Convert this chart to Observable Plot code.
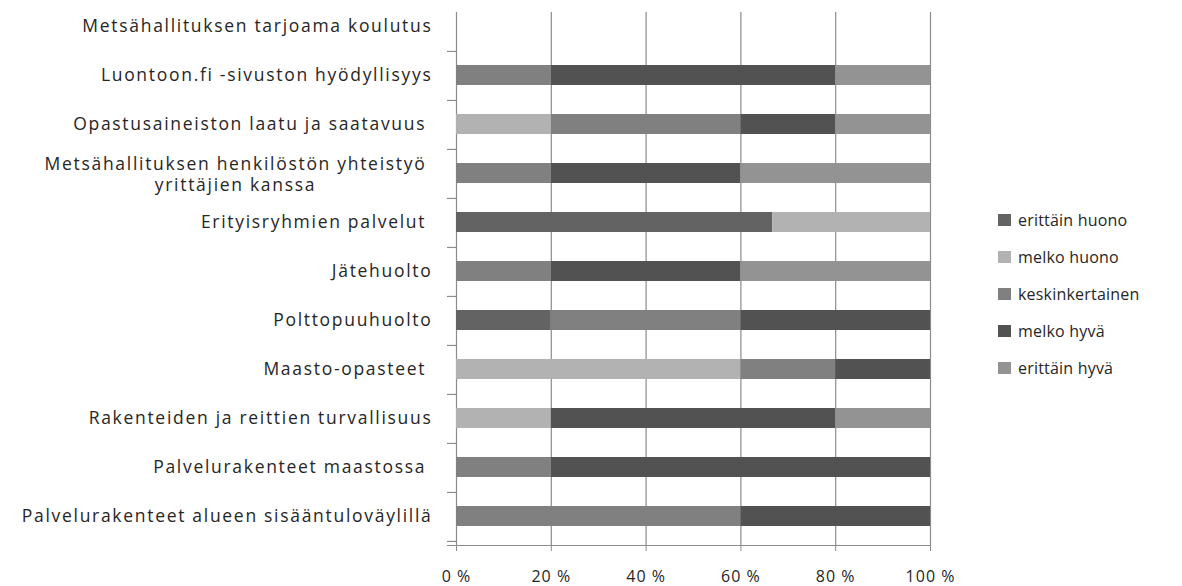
<!DOCTYPE html>
<html><head><meta charset="utf-8">
<script src="https://cdn.jsdelivr.net/npm/d3@7"></script>
<script src="https://cdn.jsdelivr.net/npm/@observablehq/plot@0.6"></script>
<style>
html,body{margin:0;padding:0;background:#fff;}
body{width:1182px;height:586px;overflow:hidden;position:relative;font-family:"Open Sans",sans-serif;color:#262626;}
#chart{position:absolute;left:0;top:-20px;}
#chart svg text{white-space:pre;}
#chart g[aria-label="y-axis tick label"] text, #chart g[aria-label="text"] text{letter-spacing:1.7px;}
#chart g[aria-label="x-axis tick label"] text{letter-spacing:1px;}
#legend{position:absolute;left:998px;top:201px;font-size:16px;letter-spacing:0.2px;}
#legend .item{display:flex;align-items:center;height:37px;}
#legend .sw{width:13px;height:12px;margin-right:7px;}
</style>
</head><body>
<div id="chart"></div>
<div id="legend"></div>
<script>
const categories = [
  "Metsähallituksen tarjoama koulutus",
  "Luontoon.fi -sivuston hyödyllisyys",
  "Opastusaineiston laatu ja saatavuus ",
  "Metsähallituksen henkilöstön yhteistyö\nyrittäjien kanssa",
  "Erityisryhmien palvelut ",
  "Jätehuolto",
  "Polttopuuhuolto",
  "Maasto-opasteet ",
  "Rakenteiden ja reittien turvallisuus",
  "Palvelurakenteet maastossa ",
  "Palvelurakenteet alueen sisääntuloväylillä"
];
const levels = ["erittäin huono", "melko huono", "keskinkertainen", "melko hyvä", "erittäin hyvä"];
const levelColors = ["#636363", "#b2b2b2", "#808080", "#525252", "#939393"];
// percent per category (same order as categories)
const erittainHuono   = [0, 0, 0, 0, 66.7, 0, 20, 0, 0, 0, 0];
const melkoHuono      = [0, 0, 20, 0, 33.3, 0, 0, 60, 20, 0, 0];
const keskinkertainen = [0, 20, 40, 20, 0, 20, 40, 20, 0, 20, 60];
const melkoHyva       = [0, 60, 20, 40, 0, 40, 40, 20, 60, 80, 40];
const erittainHyva    = [0, 20, 20, 40, 0, 40, 0, 0, 20, 0, 0];
const xTicks = [0, 20, 40, 60, 80, 100];

const series = [erittainHuono, melkoHuono, keskinkertainen, melkoHyva, erittainHyva];
const rows = [];
levels.forEach((lv, j) => categories.forEach((c, i) => {
  if (series[j][i] > 0) rows.push({category: c, level: lv, value: series[j][i]});
}));

const twoLine = categories[3];

const chart = Plot.plot({
  width: 960,
  height: 612,
  marginLeft: 456,
  marginRight: 30,
  marginTop: 16,
  marginBottom: 47,
  style: {fontFamily: "'Open Sans', sans-serif", color: "#262626", background: "transparent", overflow: "visible"},
  x: {domain: [0, 100], axis: null},
  y: {domain: categories, paddingInner: 0.6, paddingOuter: 0.3, axis: null},
  color: {domain: levels, range: levelColors},
  marks: [
    Plot.ruleX(xTicks, {stroke: "#8c8c8c", strokeWidth: 1.2, insetTop: 16}),
    Plot.barX(rows, Plot.stackX({y: "category", x: "value", fill: "level", order: levels})),
    Plot.frame({anchor: "bottom", stroke: "#8c8c8c", strokeWidth: 1.2, insetLeft: -9}),
    Plot.axisY({anchor: "left", tickSize: 9, tickFormat: null, dy: 24.95, stroke: "#8c8c8c", strokeWidth: 1.2, label: null}),
    Plot.axisY({anchor: "left", tickSize: 0, tickPadding: 24, fontSize: 17.5, label: null,
      tickFormat: d => d === twoLine ? "" : d, fill: "#262626"}),
    Plot.text([twoLine], {y: d => d, frameAnchor: "left", dx: -221, textAnchor: "middle",
      lineAnchor: "middle", fontSize: 17.5, lineHeight: 1.2, fill: "#262626"}),
    Plot.axisX({anchor: "bottom", ticks: xTicks, tickSize: 6, tickPadding: 19, fontSize: 16, label: null,
      tickFormat: d => d + " %", stroke: "#8c8c8c", fill: "#262626"})
  ]
});
document.getElementById("chart").appendChild(chart);

const legend = document.getElementById("legend");
levels.forEach((lv, j) => {
  const it = document.createElement("div");
  it.className = "item";
  it.innerHTML = `<div class="sw" style="background:${levelColors[j]}"></div><span>${lv}</span>`;
  legend.appendChild(it);
});
</script>
</body></html>
